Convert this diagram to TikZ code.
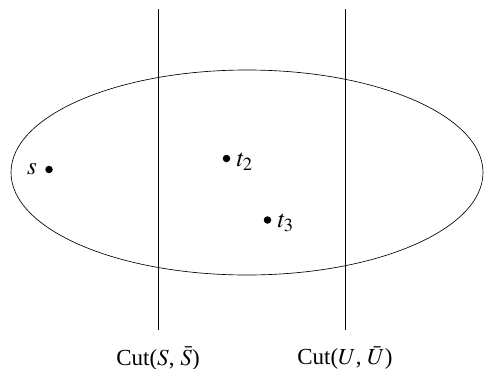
\documentclass[tikz,border=0pt]{standalone}
\usepackage{amsmath,amssymb}
\usepackage{mathptmx}
\usepackage{fontspec}
\setmainfont{Liberation Serif}
\usepackage{tikz}
\usetikzlibrary{positioning}

\tikzset{
  vertex/.style={circle, fill=black, inner sep=0pt, minimum size=7.5pt},
  cutline/.style={line width=0.7pt},
  cutlabel/.style={font=\fontsize{23}{27}\selectfont},
  ptlabel/.style={font=\fontsize{25}{29}\selectfont, inner sep=1pt}
}

\begin{document}
\begin{tikzpicture}[x=1pt, y=-1pt]
        \useasboundingbox (0,0) rectangle (484,369);

        % Region
        \draw[line width=0.65pt] (247,172.5) ellipse [x radius=236, y radius=102.5];

        % Cut lines
        \coordinate (ctop) at (158,9.5);
        \coordinate (cbot) at (158,330);
        \coordinate (utop) at (345,9.5);
        \coordinate (ubot) at (345,330);
        \draw[cutline] (ctop) -- (cbot);
        \draw[cutline] (utop) -- (ubot);
        \node[cutlabel, below=13pt of cbot] (lcut) {Cut($S$, $\bar{S}$)};
        \node[cutlabel, below=13pt of ubot] (lucut) {Cut($U$, $\bar{U}$)};

        % Vertices
        \node[vertex] (s) at (49,169.5) {};
        \node[ptlabel, left=7pt of s] (ls) {$s$};
        \node[vertex] (t2) at (226.5,158.5) {};
        \node[ptlabel, right=5pt of t2, yshift=-3pt] (lt2) {$t_2$};
        \node[vertex] (t3) at (267.5,220) {};
        \node[ptlabel, right=5pt of t3, yshift=-3pt] (lt3) {$t_3$};
\end{tikzpicture}
\end{document}
